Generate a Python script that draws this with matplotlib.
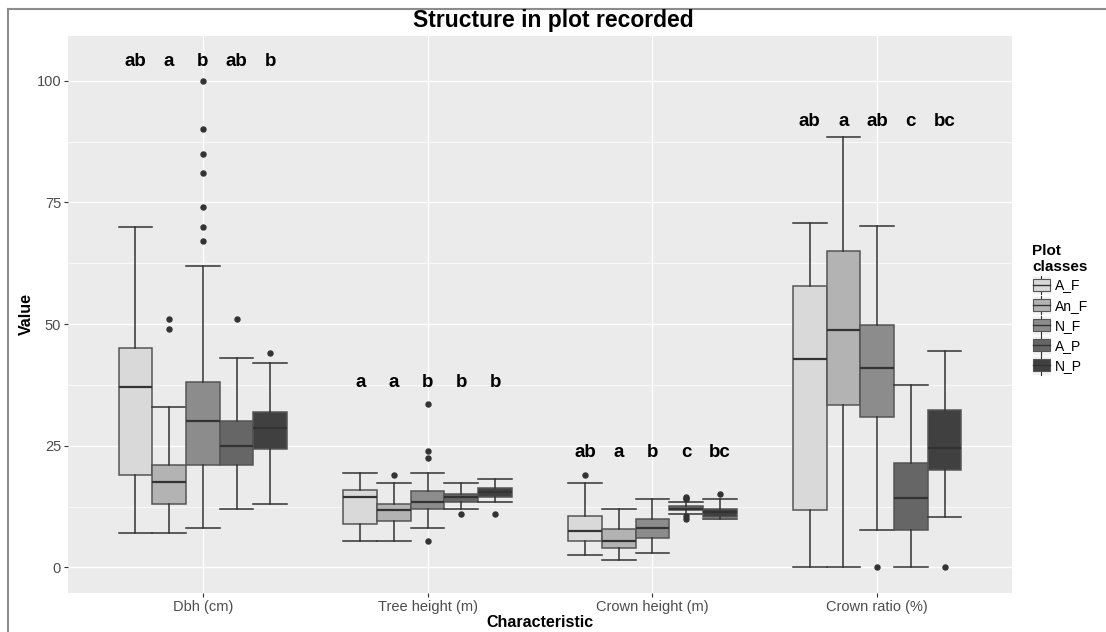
import matplotlib.pyplot as plt
from matplotlib.lines import Line2D
from matplotlib.patches import Rectangle
from matplotlib.legend_handler import HandlerBase

plt.rcParams['font.family'] = ['Liberation Sans', 'DejaVu Sans']

characteristics = ["Dbh (cm)", "Tree height (m)", "Crown height (m)", "Crown ratio (%)"]
classes = ["A_F", "An_F", "N_F", "A_P", "N_P"]
fills = ["#d9d9d9", "#b3b3b3", "#8c8c8c", "#666666", "#404040"]

# one row per characteristic, one column per class (A_F, An_F, N_F, A_P, N_P)
whis_lo = [[7, 7, 8, 12, 13],
           [5.5, 5.5, 8, 12, 13.5],
           [2.5, 1.5, 3, 11, 10],
           [0, 0, 7.7, 0, 10.4]]
q1 = [[19, 13, 21, 21, 24.3],
      [9, 9.5, 12, 13.5, 14.5],
      [5.4, 4, 6.1, 11.7, 10.4],
      [11.8, 33.4, 30.9, 7.7, 20]]
med = [[37, 17.5, 30, 25, 28.6],
       [14.5, 11.7, 13.5, 14.5, 15.4],
       [7.5, 5.4, 8, 12.1, 11.3],
       [42.9, 48.7, 40.9, 14.3, 24.6]]
q3 = [[45, 21, 38, 30, 32],
      [16, 13, 15.8, 15, 16.4],
      [10.6, 7.9, 9.9, 12.6, 11.9],
      [57.8, 65.1, 49.9, 21.5, 32.3]]
whis_hi = [[70, 33, 62, 43, 42],
           [19.5, 17.4, 19.5, 17.4, 18.1],
           [17.4, 11.9, 14, 13.4, 14],
           [70.7, 88.4, 70.2, 37.5, 44.5]]
outliers = [[[], [49, 51], [67, 70, 74, 81, 85, 90, 100], [51], [44]],
            [[], [18.9], [5.4, 22.4, 24, 33.6], [11], [11]],
            [[19], [], [], [10, 10.5, 14, 14.2, 14.5], [15]],
            [[], [], [0], [], [0]]]
letters = [["ab", "a", "b", "ab", "b"],
           ["a", "a", "b", "b", "b"],
           ["ab", "a", "b", "c", "bc"],
           ["ab", "a", "ab", "c", "bc"]]
letter_y = [104, 37.9, 23.7, 91.6]

fig = plt.figure(figsize=(11.06, 6.32), dpi=100)
ax = fig.add_axes([68 / 1106, 39.3 / 632, 944 / 1106, 556.7 / 632])
ax.set_facecolor("#ebebeb")
for s in ax.spines.values():
    s.set_visible(False)

width = 0.15
for i in range(len(characteristics)):
    for j in range(len(classes)):
        pos = i + 1 + (j - 2) * width
        st = dict(med=med[i][j], q1=q1[i][j], q3=q3[i][j],
                  whislo=whis_lo[i][j], whishi=whis_hi[i][j],
                  fliers=outliers[i][j])
        ax.bxp([st], positions=[pos], widths=width, patch_artist=True,
               showcaps=True, manage_ticks=False,
               boxprops=dict(facecolor=fills[j], edgecolor="#555555", linewidth=1.1),
               medianprops=dict(color="#333333", linewidth=1.6),
               whiskerprops=dict(color="#333333", linewidth=1.1),
               capprops=dict(color="#333333", linewidth=1.1),
               capwidths=width,
               flierprops=dict(marker="o", markersize=3.6, markerfacecolor="#333333",
                               markeredgecolor="#333333"))
        ax.text(pos, letter_y[i], letters[i][j], ha="center", va="center",
                fontsize=13.5, fontweight="bold", color="black")

ax.set_xlim(0.4, 4.6)
ax.set_ylim(-5.2, 109.2)
ax.set_xticks(range(1, 5))
ax.set_xticklabels(characteristics)
ax.set_yticks([0, 25, 50, 75, 100])
ax.set_yticks([12.5, 37.5, 62.5, 87.5], minor=True)
ax.tick_params(axis="both", which="major", length=3, color="#333333", labelcolor="#4d4d4d",
               labelsize=10.5, pad=2)
ax.tick_params(axis="y", which="minor", length=0)
ax.grid(True, which="major", color="white", linewidth=1.0)
ax.grid(True, which="minor", axis="y", color="white", linewidth=0.5)
ax.set_axisbelow(True)

ax.set_xlabel("Characteristic", fontsize=11.5, fontweight="bold", labelpad=1)
ax.set_ylabel("Value", fontsize=11.5, fontweight="bold", labelpad=2)
fig.text(0.5, 1 - 20 / 632, "Structure in plot recorded", ha="center", va="center",
         fontsize=16.5, fontweight="bold")


class BoxKey(HandlerBase):
    def create_artists(self, legend, orig_handle, xdescent, ydescent, width, height,
                       fontsize, trans):
        x0, y0 = -xdescent, -ydescent
        bg = Rectangle((x0, y0), width, height, facecolor="#f2f2f2", edgecolor="white",
                       linewidth=0.5, transform=trans)
        cx = x0 + width / 2
        wl = Line2D([cx, cx], [y0, y0 + height], color="#333333", linewidth=0.8,
                    transform=trans)
        bx = Rectangle((x0 + width * 0.06, y0 + height * 0.18), width * 0.88, height * 0.64,
                       facecolor=orig_handle.get_facecolor(), edgecolor="#555555",
                       linewidth=0.8, transform=trans)
        md = Line2D([x0 + width * 0.06, x0 + width * 0.94], [y0 + height / 2] * 2,
                    color="#333333", linewidth=1.0, transform=trans)
        return [bg, wl, bx, md]


handles = [Rectangle((0, 0), 1, 1, facecolor=c) for c in fills]
leg = fig.legend(handles, classes, loc="upper left",
                 bbox_to_anchor=(1025 / 1106, 1 - 237 / 632),
                 handler_map={Rectangle: BoxKey()}, frameon=False,
                 fontsize=10, handlelength=1.35, handleheight=1.7,
                 handletextpad=0.3, labelspacing=0.1, borderpad=0,
                 title="Plot\nclasses", alignment="left",
                 title_fontproperties={"weight": "bold", "size": 11})

# outer frame of the original export
fig.add_artist(Line2D([7.5 / 1106, 7.5 / 1106], [0, 1 - 8.5 / 632],
                      transform=fig.transFigure, color="#8c8c8c", linewidth=1.5))
fig.add_artist(Line2D([7.5 / 1106, 1], [1 - 8.5 / 632, 1 - 8.5 / 632],
                      transform=fig.transFigure, color="#8c8c8c", linewidth=1.5))

fig.savefig("out.png", dpi=100)
